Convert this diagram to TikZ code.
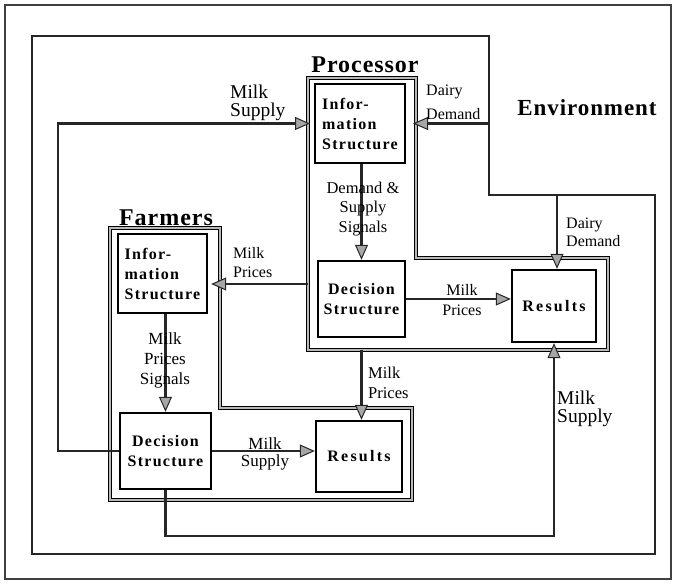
\documentclass[tikz,border=0pt]{standalone}
\usepackage{fontspec}
\setmainfont{Liberation Serif}
\newfontfamily\boxfont{Liberation Serif}[LetterSpace=8]
\newfontfamily\titlefont{Liberation Serif}[LetterSpace=4]
\usetikzlibrary{arrows.meta}
\begin{document}
\begin{tikzpicture}[x=1pt,y=-1pt,
  frame/.style={draw=black!75, line width=1.5pt},
  envline/.style={draw=black!85, line width=1.9pt, line join=miter},
  cont/.style={draw=black, line width=1.2pt, double=gray!55, double distance=2.4pt, line join=miter},
  ibox/.style={draw=black, line width=2.4pt, inner sep=0pt, align=center,
    font=\boxfont\bfseries\fontsize{16}{20}\selectfont},
  conn/.style={draw=black!85, line width=2.1pt},
  arr/.style={conn, -{Triangle[length=15pt,width=13pt,fill=gray!70,line width=1pt]}},
  titl/.style={inner sep=0pt, font=\titlefont\bfseries\fontsize{24}{26}\selectfont},
  lab/.style={inner sep=0pt, align=left, font=\fontsize{16}{19.5}\selectfont},
  labc/.style={inner sep=0pt, align=center, font=\fontsize{16.5}{19.5}\selectfont},
  labbig/.style={inner sep=0pt, align=left, font=\fontsize{19.5}{18}\selectfont}
]
\useasboundingbox (0,0) rectangle (674,586);

% outer frame
\draw[frame] (5,5) rectangle (671,579);

% environment boundary
\coordinate (eNW) at (32,36);
\coordinate (eN) at (489,36);
\coordinate (eM) at (489,195);
\coordinate (eE) at (655,195);
\coordinate (eSE) at (655,554);
\coordinate (eSW) at (32,554);
\draw[envline] (eNW) -- (eN) -- (eM) -- (eE) -- (eSE) -- (eSW) -- cycle;

% processor boundary
\coordinate (pNW) at (308,78);
\coordinate (pNE) at (416,78);
\coordinate (pM) at (416,258);
\coordinate (pE) at (608,258);
\coordinate (pSE) at (608,350);
\coordinate (pSW) at (308,350);
\draw[cont] (pNW) -- (pNE) -- (pM) -- (pE) -- (pSE) -- (pSW) -- cycle;

% farmers boundary
\coordinate (fNW) at (110,228);
\coordinate (fNE) at (220,228);
\coordinate (fM) at (220,408);
\coordinate (fE) at (412,408);
\coordinate (fSE) at (412,500);
\coordinate (fSW) at (110,500);
\draw[cont] (fNW) -- (fNE) -- (fM) -- (fE) -- (fSE) -- (fSW) -- cycle;

% inner boxes
\node[ibox, align=left, minimum width=90pt, minimum height=79pt] (pinfo) at (360,123.5) {Infor-\\mation\\Structure};
\node[ibox, minimum width=87pt, minimum height=76pt] (pdec) at (361.5,299) {Decision\\Structure};
\node[ibox, minimum width=84pt, minimum height=72pt] (pres) at (554,306) {\addfontfeatures{LetterSpace=14}Results};
\node[ibox, align=left, minimum width=89pt, minimum height=79pt] (finfo) at (162.5,273.5) {Infor-\\mation\\Structure};
\node[ibox, minimum width=91pt, minimum height=76pt] (fdec) at (165.5,451) {Decision\\Structure};
\node[ibox, minimum width=86pt, minimum height=71pt] (fres) at (359,456.5) {\addfontfeatures{LetterSpace=14}Results};

% helper coordinates
\coordinate (msL) at (58,123.5);
\coordinate (ddE) at (489,123.5);
\coordinate (mpS) at (308,284);
\coordinate (ddT) at (557,195);
\coordinate (msB) at (0,536);

% connectors
\draw[arr, shorten >=-2pt] (fdec.west) -| (msL) -- (msL -| pNW);
\draw[arr, shorten >=-3pt] (ddE) -- (ddE -| pNE);
\draw[arr] (pdec.north |- pinfo.south) -- (pdec.north);
\draw[arr, shorten >=3pt] (mpS) -- (mpS -| finfo.east);
\draw[arr] (pdec.east) -- (pdec.east -| pres.west);
\draw[arr] (ddT) -- (ddT |- pres.north);
\draw[arr] (fdec.south) -- (fdec.south |- msB) -| (pres.south);
\draw[arr] (pdec.south |- pSW) -- (pdec.south |- fres.north);
\draw[arr] (fdec.north |- finfo.south) -- (fdec.north);
\draw[arr] (fdec.east) -- (fdec.east -| fres.west);

% titles
\node[titl, anchor=base] (tProc) at (365,72) {Processor};
\node[titl, anchor=base] (tFarm) at (166,225) {Farmers};
\node[titl, anchor=base, font=\titlefont\bfseries\fontsize{23}{26}\selectfont, /utils/exec={\addfontfeatures{LetterSpace=6}}] (tEnv) at (587,115) {Environment};

% labels (anchor base = baseline of the last line)
\node[labbig, anchor=base west] (lMS1) at (230,116) {Milk\\Supply};
\node[lab, anchor=base west, font=\fontsize{16}{24}\selectfont] (lDD1) at (426,119) {Dairy\\Demand};
\node[labc, anchor=base] (lDSS) at (363,232) {Demand \&\\Supply\\Signals};
\node[lab, anchor=base west, font=\fontsize{16}{19}\selectfont] (lMP1) at (233,277) {Milk\\Prices};
\node[labc, anchor=base, font=\fontsize{16}{20}\selectfont] (lMP2) at (462,315) {Milk\\Prices};
\node[lab, anchor=base west, font=\fontsize{16}{18}\selectfont] (lDD2) at (566,246) {Dairy\\Demand};
\node[lab, anchor=base west, font=\fontsize{16.5}{20}\selectfont] (lMP3) at (368,398) {Milk\\Prices};
\node[labc, anchor=base, font=\fontsize{17}{20}\selectfont] (lMPS) at (165,384) {Milk\\Prices\\Signals};
\node[labc, anchor=base, font=\fontsize{17}{17}\selectfont] (lMS2) at (265,466) {Milk\\Supply};
\node[labbig, anchor=base west] (lMS3) at (557,422) {Milk\\Supply};
\end{tikzpicture}
\end{document}
